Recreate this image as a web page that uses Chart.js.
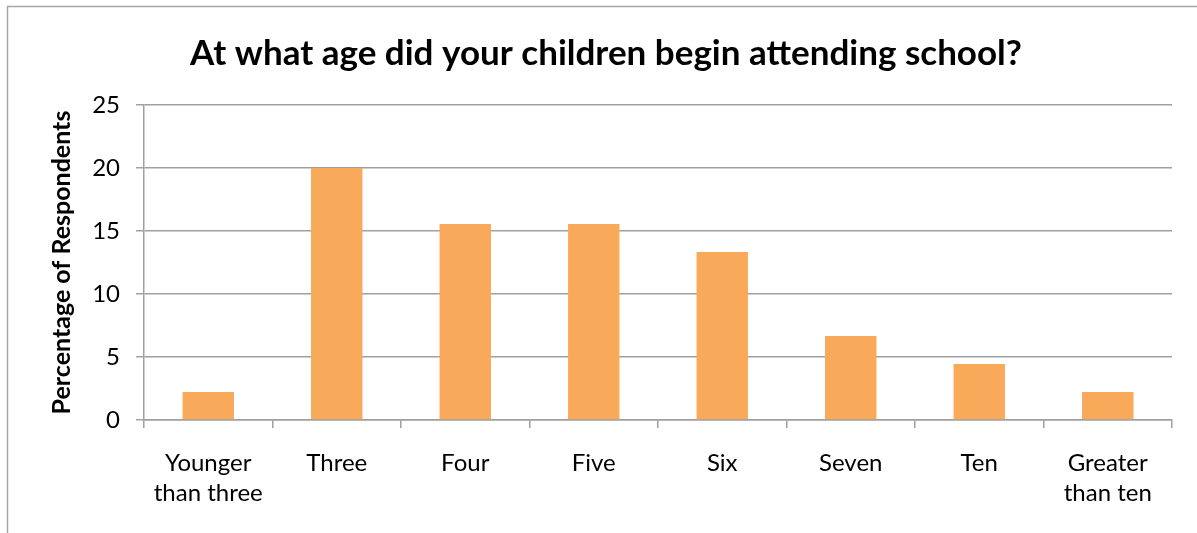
<!DOCTYPE html>
<html><head><meta charset="utf-8">
<script src="https://cdn.jsdelivr.net/npm/chart.js@4"></script>
<style>html,body{margin:0;padding:0;background:#fff;}#wrap{width:1197px;height:533px;}</style>
</head><body><div id="wrap"><canvas id="c" width="1197" height="533"></canvas></div>
<script>
const categories = [["Younger","than three"],"Three","Four","Five","Six","Seven","Ten",["Greater","than ten"]];
const percentages = [2.22, 20.0, 15.56, 15.56, 13.33, 6.67, 4.44, 2.22];
const yTicks = [0, 5, 10, 15, 20, 25];
const titleText = "At what age did your children begin attending school?";
const yTitle = "Percentage of Respondents";
const FONT = "Lato, 'Open Sans', sans-serif";

const frame = {
  id: 'frame',
  beforeDraw(chart) {
    const ctx = chart.ctx;
    ctx.save();
    ctx.fillStyle = '#fff';
    ctx.fillRect(0, 0, chart.width, chart.height);
    ctx.strokeStyle = '#a6a6a6';
    ctx.lineWidth = 1.5;
    ctx.strokeRect(7.5, 6.5, 1300, 700);
    ctx.fillStyle = '#000';
    ctx.font = "bold 35px " + FONT;
    ctx.textAlign = 'center';
    ctx.textBaseline = 'middle';
    ctx.fillText(titleText, 606, 54);
    ctx.restore();
  }
};

new Chart(document.getElementById('c'), {
  type: 'bar',
  data: { labels: categories, datasets: [{ data: percentages, backgroundColor: '#F9A95A', barPercentage: 0.4, categoryPercentage: 1.0 }] },
  options: {
    responsive: false, animation: false, devicePixelRatio: 1,
    layout: { padding: { top: 105, right: 25, left: 0, bottom: 0 } },
    plugins: { legend: { display: false }, tooltip: { enabled: false }, title: { display: false } },
    scales: {
      x: {
        grid: { display: true, offset: true, drawOnChartArea: false, drawTicks: true, tickLength: 8, color: '#a0a0a0', lineWidth: 1.5 },
        border: { display: true, color: '#a0a0a0', width: 1.5 },
        ticks: { color: '#000', font: { family: FONT, size: 24, lineHeight: 1.25 }, padding: 20, maxRotation: 0, autoSkip: false },
        afterFit(s) { s.height = 113; }
      },
      y: {
        min: 0, max: 25,
        afterBuildTicks(s) { s.ticks = yTicks.map(v => ({ value: v })); },
        grid: { color: '#a0a0a0', lineWidth: 1.5, tickLength: 8, drawTicks: true },
        border: { display: true, color: '#a0a0a0', width: 1.5 },
        ticks: { color: '#000', font: { family: FONT, size: 24 }, padding: 16 },
        title: { display: true, text: yTitle, color: '#000', font: { family: FONT, size: 25, weight: 'bold', lineHeight: 1.2 }, padding: { top: 47, bottom: 0 } },
        afterFit(s) { s.width = 144; }
      }
    }
  },
  plugins: [frame]
});
</script></body></html>
